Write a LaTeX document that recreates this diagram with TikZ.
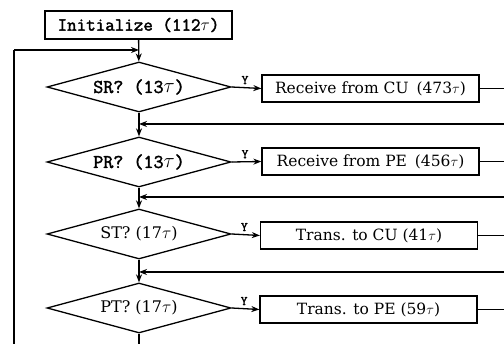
\documentclass[tikz,border=0pt]{standalone}
\usepackage{fontspec}
\setmainfont{DejaVu Serif}
\newfontfamily\monof{Latin Modern Mono}[FakeBold=2]
\usetikzlibrary{shapes.geometric,arrows.meta}
\begin{document}
\begin{tikzpicture}[x=1pt,y=-1pt,
  ln/.style={line width=1.3pt},
  arr/.style={ln,-{Stealth[length=8pt,width=6pt]}},
  boxn/.style={draw,line width=1.3pt,minimum width=217pt,minimum height=27pt,inner sep=0pt,font=\fontsize{15.5}{17}\selectfont},
  dia/.style={draw,line width=1.3pt,diamond,aspect=3.68,minimum width=184pt,minimum height=50pt,inner sep=0pt},
  ttx/.style={font=\monof\fontsize{18.5}{20}\selectfont},
  ttd/.style={font=\monof\fontsize{19.5}{21}\selectfont},
  rmx/.style={font=\fontsize{16}{18}\selectfont},
  ylab/.style={font=\monof\fontsize{13}{14}\selectfont,inner sep=0pt}]
\useasboundingbox (0,0) rectangle (504,344);
% nodes
\node[draw,line width=1.3pt,minimum width=187pt,minimum height=28pt,inner sep=0pt,ttx] (init) at (138.5,25) {Initialize (112$\tau$)};
\node[dia,ttd] (sr) at (139,87) {SR? (13$\tau$)};
\node[dia,ttd] (pr) at (139,162) {PR? (13$\tau$)};
\node[dia,rmx] (st) at (139,234) {ST? (17$\tau$)};
\node[dia,rmx] (pt) at (139,308) {PT? (17$\tau$)};
\node[boxn] (b1) at (370.5,88.5) {Receive from CU\hspace{3pt} (473$\tau$)};
\node[boxn] (b2) at (370.5,161.5) {Receive from PE\hspace{3pt} (456$\tau$)};
\node[boxn] (b3) at (369,235.5) {Trans. to CU (41$\tau$)};
\node[boxn] (b4) at (368.5,309.5) {Trans. to PE (59$\tau$)};
% coordinates
\coordinate (j0) at (139,50);
\coordinate (j1) at (139,124);
\coordinate (j2) at (139,197);
\coordinate (j3) at (139,272);
\coordinate (bot) at (139,345);
\coordinate (lb) at (14,345);
\coordinate (lt) at (14,50);
\coordinate (e1) at (505,88.5);
\coordinate (e2) at (505,161.5);
\coordinate (e3) at (505,235.5);
\coordinate (e4) at (505,309.5);
\coordinate (r1) at (505,124);
\coordinate (r2) at (505,197);
\coordinate (r3) at (505,272);
% vertical chain
\draw[arr] (init) -- (sr);
\draw[arr] (sr) -- (pr);
\draw[arr] (pr) -- (st);
\draw[arr] (st) -- (pt);
\draw[ln] (pt) -- (bot);
% loop
\draw[ln] (lb) -- (lt);
\draw[arr] (lt) -- (j0);
% returns
\draw[arr] (r1) -- (j1);
\draw[arr] (r2) -- (j2);
\draw[arr] (r3) -- (j3);
% yes branches
\draw[arr] (sr.east) -- node[ylab,above=3pt,pos=0.45]{Y} (b1.west);
\draw[arr] (pr.east) -- node[ylab,above=3pt,pos=0.45]{Y} (b2.west);
\draw[arr] (st.east) -- node[ylab,above=3pt,pos=0.45]{Y} (b3.west);
\draw[arr] (pt.east) -- node[ylab,above=3pt,pos=0.45]{Y} (b4.west);
\draw[ln] (b1.east) -- (e1);
\draw[ln] (b2.east) -- (e2);
\draw[ln] (b3.east) -- (e3);
\draw[ln] (b4.east) -- (e4);
\end{tikzpicture}
\end{document}
